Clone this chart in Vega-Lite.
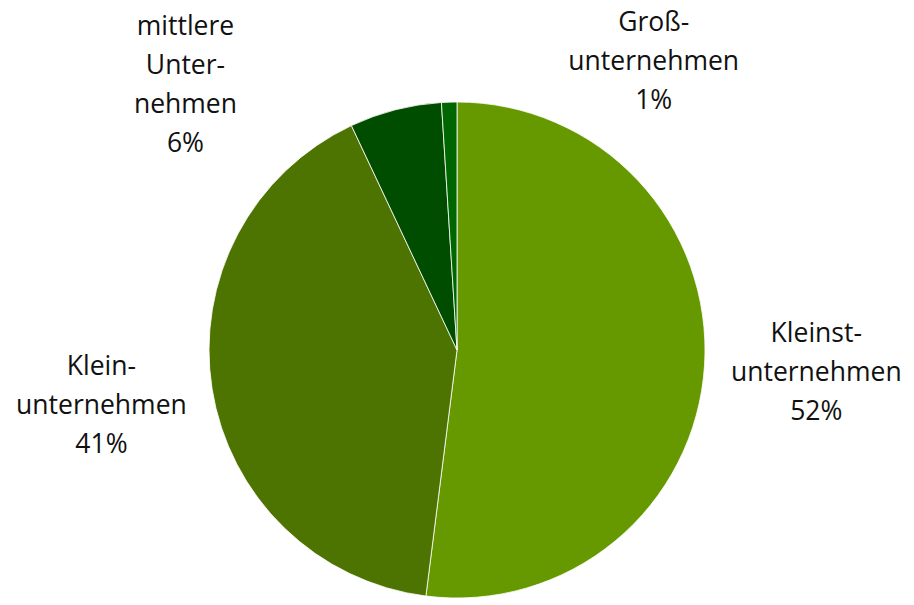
{
  "$schema": "https://vega.github.io/schema/vega-lite/v6.json",
  "width": 914,
  "height": 510,
  "autosize": {"type": "none"},
  "padding": {"top": 95, "left": 0, "right": 0, "bottom": 0},
  "background": "white",
  "config": {"view": {"stroke": null}},
  "data": {
    "values": [
      {"cat": "Kleinstunternehmen", "label": "Kleinst-\nunternehmen\n52%", "share": 52, "rank": 1},
      {"cat": "Kleinunternehmen", "label": "Klein-\nunternehmen\n41%", "share": 41, "rank": 2},
      {"cat": "mittlere Unternehmen", "label": "mittlere\nUnter-\nnehmen\n6%", "share": 6, "rank": 3},
      {"cat": "Großunternehmen", "label": "Groß-\nunternehmen\n1%", "share": 1, "rank": 4}
    ]
  },
  "encoding": {
    "theta": {"field": "share", "type": "quantitative", "stack": true},
    "order": {"field": "rank", "type": "quantitative"}
  },
  "layer": [
    {
      "mark": {"type": "arc", "outerRadius": 248, "stroke": "white", "strokeWidth": 0.8},
      "encoding": {
        "color": {
          "field": "cat",
          "type": "nominal",
          "scale": {
            "domain": ["Kleinstunternehmen", "Kleinunternehmen", "mittlere Unternehmen", "Großunternehmen"],
            "range": ["#669900", "#4d7300", "#004d00", "#006600"]
          },
          "legend": null
        }
      }
    },
    {
      "mark": {"type": "text", "radius": 360, "dy": -39, "font": "Open Sans", "fontSize": 26.5, "lineHeight": 39, "lineBreak": "\n", "align": "center", "baseline": "middle", "color": "#111111"},
      "encoding": {
        "detail": {"field": "cat", "type": "nominal"},
        "text": {"condition": {"test": "datum.share >= 10", "field": "label", "type": "nominal"}, "value": ""}
      }
    },
    {
      "mark": {"type": "text", "radius": 360, "dx": 208, "dy": 33, "font": "Open Sans", "fontSize": 26.5, "lineHeight": 39, "lineBreak": "\n", "align": "center", "baseline": "middle", "color": "#111111"},
      "encoding": {
        "detail": {"field": "cat", "type": "nominal"},
        "text": {"condition": {"test": "datum.rank == 4", "field": "label", "type": "nominal"}, "value": ""}
      }
    },
    {
      "mark": {"type": "text", "radius": 360, "dx": -182, "dy": 26, "font": "Open Sans", "fontSize": 26.5, "lineHeight": 39, "lineBreak": "\n", "align": "center", "baseline": "middle", "color": "#111111"},
      "encoding": {
        "detail": {"field": "cat", "type": "nominal"},
        "text": {"condition": {"test": "datum.rank == 3", "field": "label", "type": "nominal"}, "value": ""}
      }
    }
  ]
}
